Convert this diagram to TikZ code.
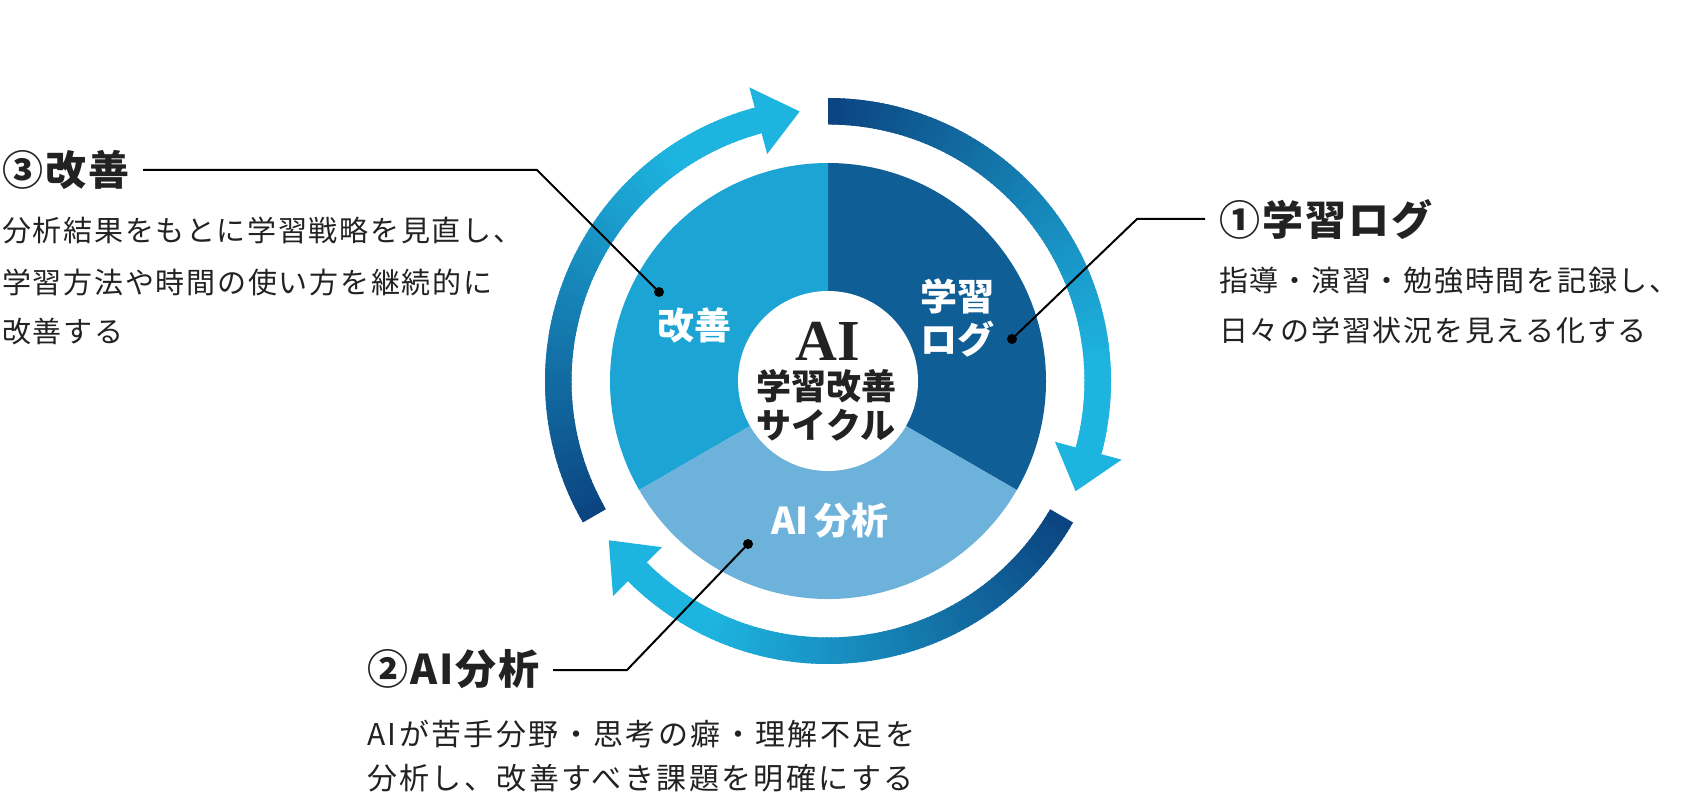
\documentclass[tikz,border=0pt]{standalone}
\usepackage{fontspec}
\setmainfont{Noto Sans CJK JP}
\newfontfamily\bodyfont[LetterSpace=6]{Noto Sans CJK JP}
\newfontfamily\bodywidefont[LetterSpace=8]{Noto Sans CJK JP}
\newfontfamily\headfont[LetterSpace=5]{Noto Sans CJK JP}
\newfontfamily\serifbold{Liberation Serif}
\usetikzlibrary{calc}
\definecolor{secA}{HTML}{0F5E96}
\definecolor{secB}{HTML}{1CA5D4}
\definecolor{secC}{HTML}{6DB2DA}
\definecolor{arrD}{HTML}{0B4480}
\definecolor{arrL}{HTML}{1EB4E0}
\definecolor{txt}{HTML}{222222}
\tikzset{
  headtxt/.style={anchor=west,inner sep=0pt,text=txt,font=\headfont\bfseries\fontsize{41}{41}\selectfont},
  bodytxt/.style={anchor=west,inner sep=0pt,text=txt,font=\bodyfont\fontsize{29}{29}\selectfont},
  bodywide/.style={anchor=west,inner sep=0pt,text=txt,font=\bodywidefont\fontsize{30}{30}\selectfont},
  sectxt/.style={inner sep=0pt,text=white,font=\bfseries\fontsize{37}{37}\selectfont},
  centxt/.style={inner sep=0pt,text=txt,font=\bfseries\fontsize{35}{35}\selectfont},
  leader/.style={draw=black,line width=2pt},
  dotmark/.style={fill=black}
}
\begin{document}
\begin{tikzpicture}[x=1pt,y=1pt]
\useasboundingbox (0,0) rectangle (1686,798);
\fill[white] (0,0) rectangle (1686,798);
\coordinate (C) at (828,417);
% pie sectors
\fill[secA] (C) -- ($(C)+(90:218)$) arc[start angle=90,end angle=-30,radius=218] -- cycle;
\fill[secB] (C) -- ($(C)+(90:218)$) arc[start angle=90,end angle=210,radius=218] -- cycle;
\fill[secC] (C) -- ($(C)+(210:218)$) arc[start angle=210,end angle=330,radius=218] -- cycle;
\fill[white] (C) circle (90);
% circular arrows with gradient
\foreach \s in {90,-30,210} {
  \foreach \k in {0,...,104} {
    \pgfmathtruncatemacro\p{min(100,round(\k*100/85))}
    \pgfmathsetmacro\aa{\s-\k}
    \pgfmathsetmacro\bb{\s-\k-1.6}
    \fill[arrL!\p!arrD] ($(C)+(\aa:283)$) arc[start angle=\aa,end angle=\bb,radius=283]
      -- ($(C)+(\bb:256.5)$) arc[start angle=\bb,end angle=\aa,radius=256.5] -- cycle;
  }
  \pgfmathsetmacro\hb{\s-105}
  \pgfmathsetmacro\ht{\s-114}
  \fill[arrL] ($(C)+(\hb:235)$) -- ($(C)+(\hb:304)$) -- ($(C)+(\ht:271)$) -- cycle;
}
% sector labels
\node[sectxt] (sA1) at (957,502) {学習};
\node[sectxt] (sA2) at (957,459) {ログ};
\node[sectxt] (sB) at (694,473) {改善};
\node[sectxt] (sC) at (830,277) {AI\,分析};
% centre text
\node[inner sep=0pt,text=txt,font=\serifbold\bfseries\fontsize{58}{58}\selectfont] (cAI) at (828,457) {AI};
\node[centxt] (c1) at (826,412) {学習改善};
\node[centxt] (c2) at (826,373) {サイクル};
% left callout (3)
\node[headtxt] (h3) at (2,628) {③改善};
\node[bodytxt] (b31) at (2,568) {分析結果をもとに学習戦略を見直し、};
\node[bodytxt] (b32) at (2,516) {学習方法や時間の使い方を継続的に};
\node[bodytxt] (b33) at (2,466) {改善する};
\coordinate (l3a) at (143,628);
\coordinate (l3b) at (537,628);
\coordinate (d3) at (659,506);
\draw[leader] (l3a) -- (l3b) -- (d3);
\fill[dotmark] (d3) circle (5);
% right callout (1)
\node[headtxt] (h1) at (1219,578) {①学習ログ};
\node[bodytxt] (b11) at (1219,517) {指導・演習・勉強時間を記録し、};
\node[bodytxt] (b12) at (1219,468) {日々の学習状況を見える化する};
\coordinate (l1a) at (1205,579);
\coordinate (l1b) at (1137,579);
\coordinate (d1) at (1012,459);
\draw[leader] (l1a) -- (l1b) -- (d1);
\fill[dotmark] (d1) circle (5);
% bottom callout (2)
\node[headtxt] (h2) at (367,129) {②AI分析};
\node[bodywide] (b21) at (367,64) {AIが苦手分野・思考の癖・理解不足を};
\node[bodywide] (b22) at (367,20) {分析し、改善すべき課題を明確にする};
\coordinate (l2a) at (553,128);
\coordinate (l2b) at (627,128);
\coordinate (d2) at (748,254);
\draw[leader] (l2a) -- (l2b) -- (d2);
\fill[dotmark] (d2) circle (5);
\end{tikzpicture}
\end{document}
